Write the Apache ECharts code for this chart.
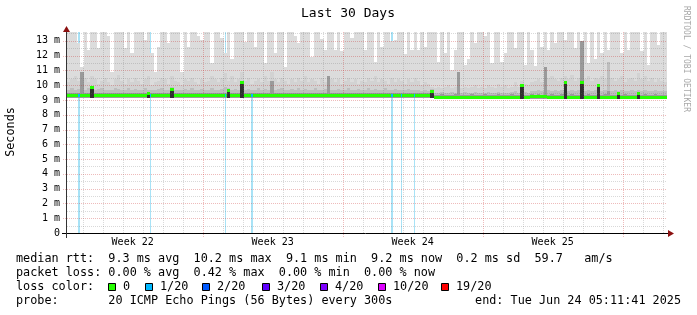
<!DOCTYPE html>
<html><head><meta charset="utf-8">
<script src="https://cdn.jsdelivr.net/npm/echarts@6/dist/echarts.min.js"></script>
<style>html,body{margin:0;padding:0;background:#fff}#c{width:697px;height:315px}</style>
</head><body><div id="c"></div>
<script>
// ---------- data ----------
const END_TIME = Date.UTC(2025, 5, 24, 5, 11, 41);
const SPAN_H = 720;          // 30 days in hours
const BIN_H = 4;             // consolidation step of the arrays below (hours)
const Y_MAX = 13.6;          // ms

const weekLabels = ['Week 22', 'Week 23', 'Week 24', 'Week 25'];
const weekStarts = ['2025-05-25', '2025-06-01', '2025-06-08', '2025-06-15'];
const yTicks = [0,1,2,3,4,5,6,7,8,9,10,11,12,13];

// packet loss events: start (hours from graph start), duration (hours)
const lossStart = [13, 100, 190, 221, 389, 401, 416];
const lossHours = [2, 1, 1, 2, 2, 1, 1];

// smoke: lowest ping (ms)
const lo = [
 9.15,9.16,9.15,9.14,9.15,9.16,9.15,9.15,9.14,9.15,9.16,9.15,9.15,9.14,9.15,9.16,9.15,9.15,9.14,9.15,
 9.16,9.15,9.15,9.14,9.15,9.15,9.16,9.15,9.14,9.15,9.15,9.16,9.15,9.15,9.14,9.15,9.16,9.15,9.15,9.14,
 9.15,9.16,9.15,9.15,9.14,9.15,9.16,9.15,9.15,9.14,9.15,9.15,9.16,9.15,9.14,9.15,9.15,9.16,9.15,9.15,
 9.14,9.15,9.16,9.15,9.15,9.14,9.15,9.16,9.15,9.15,9.14,9.15,9.15,9.16,9.15,9.14,9.15,9.15,9.16,9.15,
 9.15,9.14,9.15,9.16,9.15,9.15,9.14,9.15,9.16,9.15,9.15,9.14,9.15,9.15,9.16,9.15,9.14,9.15,9.15,9.16,
 9.15,9.15,9.14,9.15,9.16,9.15,9.15,9.14,9.15,9.12,9.07,9.06,9.07,9.08,9.07,9.06,9.07,9.07,9.08,9.07,
 9.06,9.07,9.07,9.08,9.07,9.06,9.07,9.07,9.08,9.07,9.06,9.07,9.07,9.08,9.07,9.06,9.07,9.07,9.08,9.07,
 9.08,9.09,9.08,9.07,9.07,9.06,9.07,9.07,9.08,9.07,9.06,9.07,9.07,9.08,9.07,9.06,9.07,9.07,9.08,9.07,
 9.06,9.07,9.07,9.08,9.07,9.06,9.07,9.07,9.08,9.07,9.06,9.07,9.07,9.08,9.07,9.06,9.07,9.07,9.08,9.05
];
// smoke: highest ping (ms), often above the top of the graph
const hi = [
 14,14,14,12.85,11.2,14,12.4,14,14,12.5,14,14,13.3,10.9,14,14,14,12.5,14,12.2,
 14,14,14,13.07,14,12.2,10.9,12.6,14,14,12.85,14,14,14,10.9,14,12.6,14,14,13.3,
 13.07,14,14,11.5,14,14,13.2,12.2,14,11.8,14,14,14,12.9,14,14,12.6,14,14,11.5,
 14,14,12.2,14,14,11.26,14,14,13.3,12.85,14,14,14,11.9,14,14,13.1,12.4,14,14,
 12.4,14,12.3,14,14,13.2,14,14,14,12.4,14,14,11.6,14,12.6,14,14,13.0,13.07,14,
 14,12.1,14,12.4,14,12.4,14,12.6,14,14,14,11.6,14,12.2,14,11.0,12.4,14,14,11.4,
 11.8,14,12.85,14,14,13.3,14,11.5,14,14,11.6,12.2,14,14,12.5,14,14,11.4,14,12.4,
 11.3,14,12.6,14,12.4,14,12.85,14,14,13.07,14,14,12.5,14,13.0,14,11.5,14,11.8,14,
 12.2,14,12.4,14,14,14,12.2,14,12.4,14,14,14,12.3,14,11.4,14,14,12.7,14,14
];
// smoke: outer-middle band top (ms)
const q2 = [
 10.2,10.4,10.6,10.3,10.9,10.5,10.2,10.6,10.4,10.1,10.3,10.5,10.2,10.0,10.4,10.7,10.3,10.1,10.4,10.2,
 10.5,10.3,10.1,10.4,10.6,10.0,10.2,10.3,10.5,10.4,10.1,10.6,10.3,10.2,10.0,10.4,10.3,10.5,10.2,10.1,
 10.4,10.2,10.3,10.6,10.4,10.2,10.5,10.8,10.3,10.6,10.2,10.4,10.9,10.3,10.5,10.1,10.3,10.4,10.2,10.6,
 10.3,10.9,10.4,10.2,10.5,10.3,10.1,10.4,10.2,10.5,10.3,10.6,10.2,10.4,10.3,10.1,10.5,10.2,10.6,10.4,
 10.2,10.4,10.1,10.3,10.5,10.2,10.4,10.1,10.3,10.2,10.5,10.3,10.6,10.2,10.4,10.3,10.1,10.5,10.2,10.4,
 10.3,10.1,10.4,10.2,10.5,10.3,10.0,10.2,10.1,9.9,9.8,9.9,9.8,9.9,10.0,9.8,9.9,10.9,9.8,9.9,
 9.8,9.9,10.0,9.8,9.9,9.8,10.0,9.9,9.8,10.1,9.9,10.0,9.8,9.9,10.2,9.9,10.3,10.1,10.0,10.2,
 10.3,10.4,10.2,11.2,10.5,10.6,10.4,10.3,10.5,10.6,10.4,10.7,10.3,10.5,11.0,10.4,10.6,10.3,10.5,10.4,
 10.6,10.4,11.6,10.5,10.3,10.4,10.6,10.2,10.4,10.5,10.3,10.8,10.4,10.6,10.3,10.5,10.2,10.4,10.3,10.2
];
// smoke: inner-middle band top (ms)
const q3 = [
 9.7,9.8,9.7,9.75,10.9,9.7,9.8,9.9,9.7,9.75,9.8,9.7,9.7,9.65,9.8,9.75,9.7,9.7,9.8,9.7,
 9.75,9.7,9.7,9.8,9.7,9.65,9.7,9.75,9.8,9.7,9.7,9.85,9.7,9.7,9.65,9.75,9.7,9.8,9.7,9.7,
 9.75,9.7,9.7,9.8,9.7,9.7,9.75,9.85,9.8,9.7,9.75,9.7,10.2,9.7,9.75,9.7,9.7,9.8,9.7,9.75,
 9.7,10.3,9.7,9.75,9.8,9.7,9.7,9.75,9.7,9.8,9.7,9.75,9.7,9.7,9.8,9.7,9.7,9.75,10.6,9.7,
 9.7,9.75,9.7,9.7,9.8,9.7,9.7,9.75,9.7,9.7,9.8,9.7,9.75,9.7,9.7,9.8,9.7,9.7,9.75,9.7,
 9.7,9.7,9.75,9.7,9.7,9.65,9.6,9.7,9.6,9.75,9.5,9.5,9.55,9.5,9.5,9.55,9.5,10.9,9.5,9.55,
 9.5,9.5,9.55,9.5,9.5,9.5,9.55,9.5,9.5,9.55,9.5,9.5,9.5,9.55,9.6,9.5,10.1,9.55,9.5,9.6,
 9.6,9.65,9.6,11.2,9.7,9.6,9.65,9.6,9.7,10.3,9.6,9.65,9.6,9.7,12.96,9.6,9.65,9.6,9.7,10.1,
 9.6,9.65,11.6,9.6,9.7,9.6,9.65,9.6,9.6,9.7,9.6,9.65,9.6,9.7,9.6,9.6,9.65,9.6,9.6,9.6
];
// smoke: inner band top (ms)
const q4 = [
 9.45,9.45,9.5,9.45,10.9,9.45,9.5,9.9,9.45,9.45,9.5,9.45,9.45,9.45,9.5,9.45,9.45,9.45,9.5,9.45,
 9.45,9.5,9.45,9.45,9.5,9.45,9.45,9.45,9.5,9.45,9.45,9.8,9.45,9.45,9.45,9.5,9.45,9.45,9.45,9.5,
 9.45,9.45,9.5,9.45,9.45,9.45,9.5,9.45,9.75,9.45,9.45,9.5,10.25,9.45,9.45,9.5,9.45,9.45,9.45,9.5,
 9.45,10.3,9.45,9.45,9.5,9.45,9.45,9.45,9.5,9.45,9.45,9.45,9.5,9.45,9.45,9.45,9.5,9.45,10.6,9.45,
 9.45,9.45,9.5,9.45,9.45,9.45,9.5,9.45,9.45,9.45,9.5,9.45,9.45,9.45,9.5,9.45,9.45,9.45,9.5,9.45,
 9.45,9.45,9.5,9.45,9.45,9.45,9.5,9.45,9.45,9.65,9.35,9.35,9.4,9.35,9.35,9.35,9.4,10.9,9.35,9.35,
 9.35,9.4,9.35,9.35,9.35,9.4,9.35,9.35,9.35,9.4,9.35,9.35,9.35,9.4,9.35,9.35,10.05,9.35,9.35,9.4,
 9.35,9.4,9.35,11.2,9.35,9.4,9.35,9.35,9.4,10.3,9.35,9.4,9.35,9.35,12.96,9.35,9.4,9.35,9.35,10.1,
 9.35,9.4,9.6,9.35,9.35,9.55,9.35,9.4,9.35,9.35,9.35,9.55,9.35,9.4,9.35,9.35,9.4,9.35,9.35,9.35
];
// smoke: dark core top at median jumps (0 = none)
const q5 = [
 0,0,0,0,0,0,0,9.85,0,0,0,0,0,0,0,0,0,0,0,0,
 0,0,0,0,9.47,0,0,0,0,0,0,9.76,0,0,0,0,0,0,0,0,
 0,0,0,0,0,0,0,0,9.65,0,0,0,10.2,0,0,0,0,0,0,0,
 0,0,0,0,0,0,0,0,0,0,0,0,0,0,0,0,0,0,0,0,
 0,0,0,0,0,0,0,0,0,0,0,0,0,0,0,0,0,0,0,0,
 0,0,0,0,0,0,0,0,0,9.58,0,0,0,0,0,0,0,0,0,0,
 0,0,0,0,0,0,0,0,0,0,0,0,0,0,0,0,10.0,0,0,0,
 0,0,0,0,0,0,0,0,0,10.25,0,0,0,0,10.25,0,0,0,0,10.03,
 0,0,0,0,0,9.5,0,0,0,0,0,9.5,0,0,0,0,0,0,0,0
];
// median rtt (ms)
const median = [
 9.32,9.31,9.32,9.33,9.32,9.31,9.32,9.85,9.32,9.31,9.32,9.32,9.33,9.31,9.32,9.32,9.31,9.32,9.33,9.32,
 9.31,9.32,9.32,9.31,9.47,9.33,9.32,9.31,9.32,9.32,9.31,9.76,9.32,9.31,9.32,9.33,9.32,9.31,9.32,9.32,
 9.31,9.32,9.33,9.32,9.31,9.32,9.32,9.31,9.65,9.32,9.31,9.32,10.2,9.33,9.32,9.31,9.32,9.32,9.31,9.32,
 9.32,9.33,9.31,9.32,9.32,9.31,9.32,9.33,9.32,9.31,9.32,9.32,9.31,9.32,9.33,9.32,9.31,9.32,9.32,9.31,
 9.32,9.31,9.32,9.33,9.32,9.31,9.32,9.32,9.31,9.32,9.33,9.32,9.31,9.32,9.32,9.31,9.32,9.33,9.32,9.31,
 9.32,9.32,9.31,9.32,9.33,9.32,9.31,9.32,9.35,9.58,9.23,9.22,9.23,9.22,9.22,9.23,9.22,9.22,9.23,9.22,
 9.22,9.23,9.22,9.22,9.23,9.22,9.22,9.23,9.22,9.22,9.23,9.22,9.22,9.23,9.22,9.22,10.0,9.23,9.22,9.24,
 9.26,9.27,9.26,9.24,9.23,9.22,9.23,9.22,9.22,10.25,9.22,9.23,9.22,9.22,10.25,9.22,9.23,9.22,9.22,10.03,
 9.22,9.23,9.22,9.22,9.23,9.5,9.22,9.22,9.23,9.22,9.22,9.5,9.22,9.23,9.22,9.22,9.22,9.23,9.22,9.2
];

const legendLines = [
  'median rtt:  9.3 ms avg  10.2 ms max  9.1 ms min  9.2 ms now  0.2 ms sd  59.7   am/s',
  'packet loss: 0.00 % avg  0.42 % max  0.00 % min  0.00 % now'
];
const lossLabels = ['0', '1/20', '2/20', '3/20', '4/20', '10/20', '19/20'];
const lossColors = ['#26ff00', '#00b8ff', '#0059ff', '#5e00ff', '#7e00ff', '#dd00ff', '#ff0000'];
const probeText = 'probe:       20 ICMP Echo Pings (56 Bytes) every 300s';
const endText = 'end: Tue Jun 24 05:11:41 2025';

// ---------- derived ----------
const START_TIME = END_TIME - SPAN_H * 3600e3;
const toH = ms => (ms - START_TIME) / 3600e3;
const dayLines = [];
{
  const d = new Date(START_TIME); d.setUTCHours(24, 0, 0, 0);
  for (let t = d.getTime(); t < END_TIME; t += 86400e3) {
    dayLines.push([1, toH(t), new Date(t).getUTCDay() === 0 ? 1 : 0]);
  }
}
const hLines = [];
for (let v = 0.5; v < Y_MAX; v += 0.5) hLines.push([0, v, Number.isInteger(v) ? 1 : 0]);
const weekMid = weekStarts.map(s => toH(Date.parse(s + 'T00:00:00Z') + 3.5 * 86400e3));
const weekMap = {};
weekMid.forEach((h, i) => { weekMap[h.toFixed(2)] = weekLabels[i]; });

const smokeData = hi.map((h, i) => [i * BIN_H, lo[i], h, q2[i], q3[i], q4[i], q5[i]]);
const medianData = median.map((m, i) => [i * BIN_H, m]);
const lossData = lossStart.map((s, i) => [s, lossHours[i], median[Math.floor(s / BIN_H)]]);

// ---------- chart ----------
const MONO = '"DejaVu Sans Mono", monospace';
const chart = echarts.init(document.getElementById('c'), null, { renderer: 'canvas' });
const L = 67, T = 32, R = 667, B = 233;

function xr(api, t) { return Math.round(api.coord([t, 0])[0]); }
function yr(api, v) { return Math.round(api.coord([0, Math.min(v, Y_MAX)])[1]); }

const graphics = [];
// axes
graphics.push({ type: 'line', z: 100, shape: { x1: 62, y1: B + 0.5, x2: 669, y2: B + 0.5 }, style: { stroke: '#000', lineWidth: 1 } });
graphics.push({ type: 'line', z: 100, shape: { x1: L - 0.5, y1: B + 5, x2: L - 0.5, y2: T - 1 }, style: { stroke: '#333', lineWidth: 1 } });
graphics.push({ type: 'polygon', z: 101, shape: { points: [[668, B - 3], [674, B + 0.5], [668, B + 4]] }, style: { fill: '#8b1010' } });
graphics.push({ type: 'polygon', z: 101, shape: { points: [[L - 4, T], [L - 0.5, T - 6], [L + 3, T]] }, style: { fill: '#8b1010' } });
// title & side texts
graphics.push({ type: 'text', x: 348, y: 14, style: { text: 'Last 30 Days', font: '13px ' + MONO, fill: '#000', textAlign: 'center', textVerticalAlign: 'middle' } });
graphics.push({ type: 'text', x: 11, y: 132, rotation: Math.PI / 2, style: { text: 'Seconds', font: '11.8px ' + MONO, fill: '#000', textAlign: 'center', textVerticalAlign: 'middle' } });
graphics.push({ type: 'text', x: 686, y: 59, rotation: -Math.PI / 2, style: { text: 'RRDTOOL / TOBI OETIKER', font: '8px ' + MONO, fill: '#a8a8a8', textAlign: 'center', textVerticalAlign: 'middle' } });
// legend
const LF = '11.8px ' + MONO;
legendLines.forEach((s, i) => graphics.push({ type: 'text', x: 16, y: 259 + i * 14, style: { text: s, font: LF, fill: '#000', textVerticalAlign: 'middle' } }));
graphics.push({ type: 'text', x: 16, y: 287, style: { text: 'loss color:', font: LF, fill: '#000', textVerticalAlign: 'middle' } });
const boxX = [108.5, 145.5, 202.5, 262.5, 320.5, 378.5, 441.5];
lossLabels.forEach((lab, i) => {
  graphics.push({ type: 'rect', shape: { x: boxX[i], y: 283.5, width: 7, height: 7 }, style: { fill: lossColors[i], stroke: '#000', lineWidth: 1 } });
  graphics.push({ type: 'text', x: boxX[i] + 14.5, y: 287, style: { text: lab, font: LF, fill: '#000', textVerticalAlign: 'middle' } });
});
graphics.push({ type: 'text', x: 16, y: 301, style: { text: probeText, font: LF, fill: '#000', textVerticalAlign: 'middle' } });
graphics.push({ type: 'text', x: 681, y: 301, style: { text: endText, font: LF, fill: '#000', textAlign: 'right', textVerticalAlign: 'middle' } });

chart.setOption({
  animation: false,
  backgroundColor: '#fff',
  grid: { left: L, right: 697 - R, top: T, bottom: 315 - B },
  xAxis: {
    type: 'value', min: 0, max: SPAN_H,
    axisLine: { show: false }, axisTick: { show: false }, splitLine: { show: false },
    axisLabel: {
      customValues: weekMid, margin: 4, fontFamily: MONO, fontSize: 10, color: '#000',
      formatter: v => weekMap[Number(v).toFixed(2)] || ''
    }
  },
  yAxis: {
    type: 'value', min: 0, max: Y_MAX, interval: 1,
    axisLine: { show: false }, axisTick: { show: false }, splitLine: { show: false },
    axisLabel: {
      customValues: yTicks, margin: 7, fontFamily: MONO, fontSize: 10, color: '#000',
      formatter: v => v === 0 ? '0' : (Number.isInteger(v) ? v + ' m' : '')
    }
  },
  series: [
    { // loss background bars
      type: 'custom', z: 1, data: lossData,
      renderItem: (p, api) => {
        const cs = p.coordSys;
        const x0 = xr(api, api.value(0)), x1 = Math.max(x0 + 1, xr(api, api.value(0) + api.value(1)));
        return { type: 'rect', shape: { x: x0, y: cs.y, width: x1 - x0, height: cs.height }, style: { fill: '#a8e2f6' } };
      }
    },
    { // smoke
      type: 'custom', z: 2, data: smokeData,
      renderItem: (p, api) => {
        const t = api.value(0);
        const x0 = xr(api, t), x1 = xr(api, t + BIN_H), w = x1 - x0;
        const yl = yr(api, api.value(1));
        const bands = [[api.value(2), '#dcdcdc'], [api.value(3), '#d2d2d2'], [api.value(4), '#bebebe'], [api.value(5), '#9a9a9a']];
        const ch = bands.map(([top, c]) => {
          const yt = yr(api, top);
          return { type: 'rect', shape: { x: x0, y: yt, width: w, height: yl - yt }, style: { fill: c } };
        });
        const core = api.value(6);
        if (core > 0) {
          const yt = yr(api, core);
          ch.push({ type: 'rect', shape: { x: x0, y: yt, width: w, height: yl - yt }, style: { fill: '#303030' } });
        }
        return { type: 'group', children: ch };
      }
    },
    { // grid lines
      type: 'custom', z: 3, data: hLines.concat(dayLines),
      renderItem: (p, api) => {
        const cs = p.coordSys;
        const kind = api.value(0), pos = api.value(1), major = api.value(2) === 1;
        const stroke = major ? 'rgba(200,30,30,0.3)' : 'rgba(110,110,110,0.26)';
        const ext = major ? 4 : 0;
        if (kind === 0) {
          const y = yr(api, pos) + 0.5;
          return { type: 'line', shape: { x1: cs.x - ext, y1: y, x2: cs.x + cs.width, y2: y }, style: { stroke, lineWidth: 1, lineDash: [1, 1] } };
        }
        const x = xr(api, pos) + 0.5;
        return { type: 'line', shape: { x1: x, y1: cs.y, x2: x, y2: cs.y + cs.height + ext }, style: { stroke, lineWidth: 1, lineDash: [1, 1] } };
      }
    },
    { // median
      type: 'custom', z: 4, data: medianData,
      renderItem: (p, api) => {
        const t = api.value(0);
        const x0 = xr(api, t), x1 = xr(api, t + BIN_H);
        const y = yr(api, api.value(1));
        return { type: 'rect', shape: { x: x0, y: y - 1, width: x1 - x0, height: 3 }, style: { fill: lossColors[0] } };
      }
    },
    { // median coloured by loss
      type: 'custom', z: 5, data: lossData,
      renderItem: (p, api) => {
        const x0 = xr(api, api.value(0)), x1 = Math.max(x0 + 1, xr(api, api.value(0) + api.value(1)));
        const y = yr(api, api.value(2));
        return { type: 'rect', shape: { x: x0, y: y - 1, width: x1 - x0, height: 3 }, style: { fill: lossColors[1] } };
      }
    }
  ],
  graphic: graphics
});
</script></body></html>
